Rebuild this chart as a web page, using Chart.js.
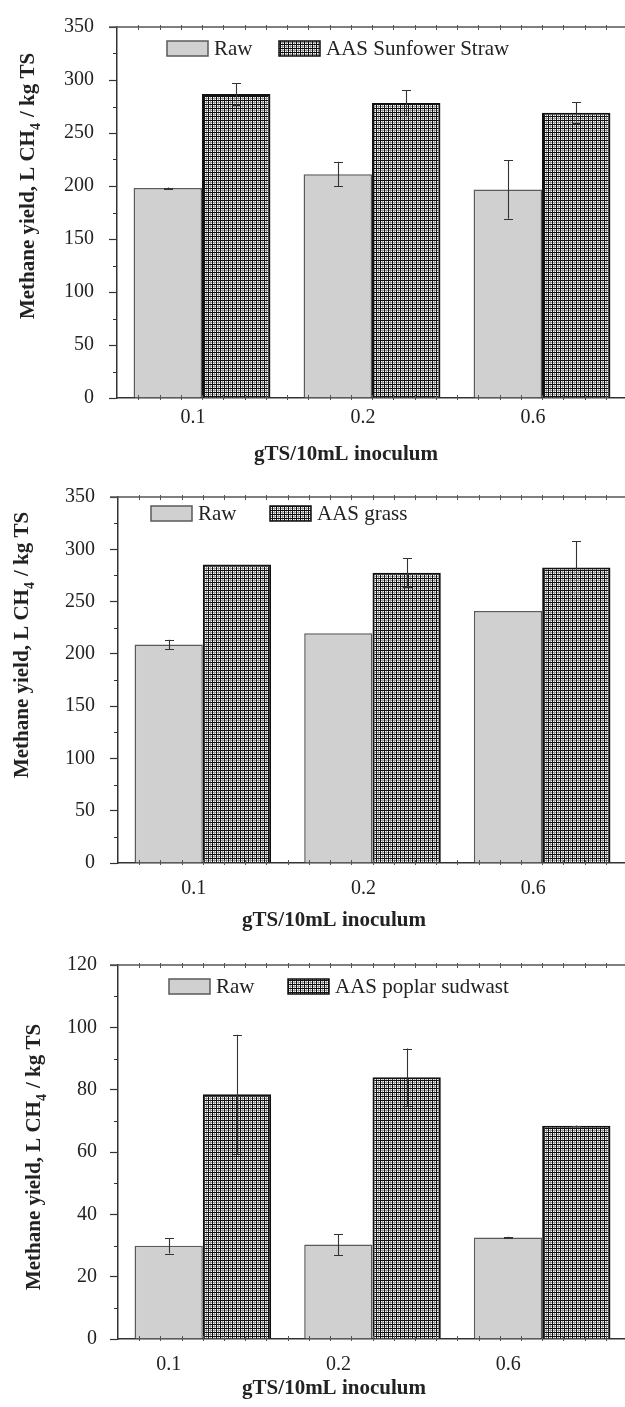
<!DOCTYPE html>
<html>
<head>
<meta charset="utf-8">
<script src="https://cdn.jsdelivr.net/npm/chart.js@4.4.1/dist/chart.umd.min.js"></script>
<style>
  html, body { margin: 0; padding: 0; background: #fff; overflow: hidden; }
  body { width: 625px; height: 1407px; position: relative; }
  .panel { position: absolute; left: 0; }
  canvas { display: block; }
</style>
</head>
<body>
<div class="panel" style="top:0"><canvas id="sunflowerChart" width="632" height="470"></canvas></div>
<div class="panel" style="top:470px"><canvas id="grassChart" width="632" height="470"></canvas></div>
<div class="panel" style="top:940px"><canvas id="poplarChart" width="632" height="467"></canvas></div>
<script>
// values (L CH4 / kg TS), errors are +/- half ranges
const categories = ['0.1', '0.2', '0.6'];

const sunflowerRaw = [198, 211.2, 196.8];
const sunflowerRawErr = [0.5, 11.6, 27.8];
const sunflowerAas = [286.8, 278.2, 269];
const sunflowerAasErr = [10, 12.2, 9.9];

const grassRaw = [209, 219.6, 241];
const grassRawErr = [4.6, 0, 0];
const grassAas = [285.4, 277.6, 282.6];
const grassAasErr = [0, 13.6, 25];

const poplarRaw = [29.9, 30.3, 32.6];
const poplarRawErr = [2.5, 3.4, 0.2];
const poplarAas = [78.5, 84, 68.4];
const poplarAasErr = [19.1, 9.2, 0.1];

const yieldTicks = [0, 50, 100, 150, 200, 250, 300, 350];
const poplarTicks = [0, 20, 40, 60, 80, 100, 120];

const SERIF = '"Liberation Serif", "Times New Roman", serif';
const INK = '#222';
const RAW_FILL = '#d0d0d0';

function hatch() {
    const c = document.createElement('canvas');
    c.width = c.height = 4;
    const g = c.getContext('2d');
    g.fillStyle = '#fff'; g.fillRect(0, 0, 4, 4);
    g.fillStyle = '#999'; g.fillRect(2, 0, 1, 4); g.fillRect(0, 2, 4, 1);
    g.fillStyle = '#111'; g.fillRect(0, 0, 1, 4); g.fillRect(0, 0, 4, 1);
    return g.createPattern(c, 'repeat');
}
const AAS_FILL = hatch();

const px = v => Math.round(v) + 0.5;

const panelDecor = {
    id: 'panelDecor',
    afterDatasetsDraw(chart) {
        const { ctx, scales: { y } } = chart;
        ctx.save();
        ctx.strokeStyle = '#333';
        ctx.lineWidth = 1.1;
        chart.data.datasets.forEach((ds, di) => {
            chart.getDatasetMeta(di).data.forEach((bar, i) => {
                const e = ds.errors[i];
                if (!e) return;
                const hi = y.getPixelForValue(ds.data[i] + e);
                const lo = y.getPixelForValue(ds.data[i] - e);
                const bx = px(bar.x);
                ctx.beginPath();
                ctx.moveTo(bx, hi); ctx.lineTo(bx, lo);
                ctx.moveTo(bx - 4.5, px(hi)); ctx.lineTo(bx + 4.5, px(hi));
                ctx.moveTo(bx - 4.5, px(lo)); ctx.lineTo(bx + 4.5, px(lo));
                ctx.stroke();
            });
        });
        ctx.restore();
    },
    afterDraw(chart, args, o) {
        const { ctx, chartArea: a, scales: { y } } = chart;
        ctx.save();

        // top frame line with small ticks, and the same small ticks on the x axis
        ctx.strokeStyle = '#555';
        ctx.lineWidth = 1.5;
        ctx.beginPath();
        ctx.moveTo(a.left - 8, a.top); ctx.lineTo(chart.width, a.top);
        ctx.stroke();
        ctx.lineWidth = 1;
        ctx.beginPath();
        for (let i = 1; i < 24; i++) {
            const tx = px(a.left + i * (a.right - a.left) / 24);
            ctx.moveTo(tx, a.top - 2); ctx.lineTo(tx, a.top + 3);
            ctx.moveTo(tx, a.bottom - 3); ctx.lineTo(tx, a.bottom + 2);
        }
        ctx.stroke();

        // minor y ticks halfway between labelled ones
        ctx.strokeStyle = '#333';
        ctx.lineWidth = 1.2;
        ctx.beginPath();
        const t = y.ticks.map(k => k.value);
        for (let i = 0; i < t.length - 1; i++) {
            const ty = px(y.getPixelForValue((t[i] + t[i + 1]) / 2));
            ctx.moveTo(a.left - 4, ty); ctx.lineTo(a.left, ty);
        }
        ctx.stroke();

        // legend inside the plot
        ctx.font = `21px ${SERIF}`;
        ctx.textBaseline = 'middle';
        ctx.fillStyle = INK;
        chart.data.datasets.forEach((ds, i) => {
            const bx = o.legendX[i], by = o.legendTop;
            ctx.fillStyle = ds.backgroundColor;
            ctx.fillRect(bx, by, 41, 15);
            ctx.strokeStyle = ds.borderColor;
            ctx.lineWidth = 1.5;
            ctx.strokeRect(bx, by, 41, 15);
            ctx.fillStyle = INK;
            ctx.fillText(ds.label, bx + 47, by + 8);
        });

        // x title
        ctx.font = `bold 21px ${SERIF}`;
        ctx.textBaseline = 'alphabetic';
        ctx.textAlign = 'center';
        ctx.fillText('gTS/10mL inoculum', o.xTitle.x, o.xTitle.y);

        // y title with subscript
        ctx.translate(o.yTitle.x, o.yTitle.cy);
        ctx.rotate(-Math.PI / 2);
        ctx.textAlign = 'left';
        const big = `bold 21px ${SERIF}`, small = `bold 14px ${SERIF}`;
        const parts = [['Methane yield, L CH', big, 0, 0], ['4', small, 6, 6], ['/ kg TS', big, 0, 0]];
        let total = 0;
        parts.forEach(p => { ctx.font = p[1]; total += ctx.measureText(p[0]).width + p[3]; });
        let cx = -total / 2;
        parts.forEach(p => {
            ctx.font = p[1];
            ctx.fillText(p[0], cx, p[2]);
            cx += ctx.measureText(p[0]).width + p[3];
        });
        ctx.restore();
    }
};

const makePanel = (id, p) => {
    const canvas = document.getElementById(id);
    return new Chart(canvas.getContext('2d'), {
        type: 'bar',
        data: {
            labels: categories,
            datasets: [
                { label: 'Raw', data: p.raw, errors: p.rawErr, backgroundColor: RAW_FILL, borderColor: '#5a5a5a', borderWidth: 1.5 },
                { label: p.aasLabel, data: p.aas, errors: p.aasErr, backgroundColor: AAS_FILL, borderColor: '#111', borderWidth: 2 }
            ]
        },
        options: {
            responsive: false,
            animation: false,
            events: [],
            datasets: { bar: { categoryPercentage: 0.805, barPercentage: 1 } },
            layout: { autoPadding: false, padding: { top: p.top, right: canvas.width - 627, left: 0, bottom: 0 } },
            plugins: {
                legend: { display: false },
                tooltip: { enabled: false },
                panelDecor: p.decor
            },
            scales: {
                x: {
                    grid: { display: false, drawTicks: false },
                    border: { display: true, color: '#333', width: 1.5 },
                    ticks: { color: INK, font: { family: SERIF, size: 20 }, padding: p.xPad, labelOffset: p.xShift },
                    afterFit: s => { s.height = canvas.height - p.bottom; }
                },
                y: {
                    min: p.ticks[0],
                    max: p.ticks[p.ticks.length - 1],
                    afterBuildTicks: s => { s.ticks = p.ticks.map(v => ({ value: v })); },
                    ticks: { color: INK, font: { family: SERIF, size: 20 }, padding: p.yPad },
                    grid: { drawOnChartArea: false, tickLength: 8, tickColor: '#333', tickWidth: 1.2 },
                    border: { color: '#333', width: 1.5 },
                    afterFit: s => { s.width = p.left; }
                }
            }
        },
        plugins: [panelDecor]
    });
};

makePanel('sunflowerChart', {
    raw: sunflowerRaw, rawErr: sunflowerRawErr, aas: sunflowerAas, aasErr: sunflowerAasErr,
    aasLabel: 'AAS Sunfower Straw', ticks: yieldTicks,
    left: 117, top: 20, bottom: 398, xPad: 8, xShift: -9, yPad: 15,
    decor: { legendX: [167, 279], legendTop: 41, xTitle: { x: 346, y: 460 }, yTitle: { x: 34, cy: 186 } }
});

makePanel('grassChart', {
    raw: grassRaw, rawErr: grassRawErr, aas: grassAas, aasErr: grassAasErr,
    aasLabel: 'AAS grass', ticks: yieldTicks,
    left: 118, top: 16, bottom: 393, xPad: 14, xShift: -9, yPad: 15,
    decor: { legendX: [151, 270], legendTop: 36, xTitle: { x: 334, y: 456 }, yTitle: { x: 28, cy: 175 } }
});

makePanel('poplarChart', {
    raw: poplarRaw, rawErr: poplarRawErr, aas: poplarAas, aasErr: poplarAasErr,
    aasLabel: 'AAS poplar sudwast', ticks: poplarTicks,
    left: 118, top: 24, bottom: 399, xPad: 14, xShift: -34, yPad: 13,
    decor: { legendX: [169, 288], legendTop: 39, xTitle: { x: 334, y: 454 }, yTitle: { x: 40, cy: 217 } }
});
</script>
</body>
</html>
